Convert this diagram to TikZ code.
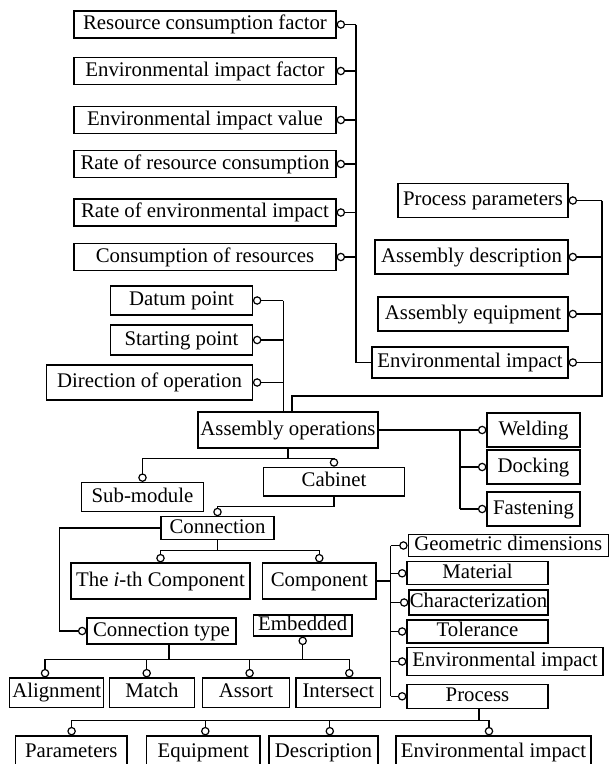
\documentclass[tikz,border=0pt]{standalone}
\usepackage{fontspec}
\setmainfont{Liberation Serif}
\usetikzlibrary{arrows.meta}
\tikzset{
	box/.style={draw, inner sep=0pt, text height=14pt, text depth=4pt, minimum height=#1},
	box/.default=28,
	ring/.style={-{Circle[open,length=8.5pt,width=8.5pt]}},
}
\begin{document}
\begin{tikzpicture}[x=1pt,y=-1pt,line width=1.2pt,font=\fontsize{20.8}{24}\selectfont]
		\clip (0,0) rectangle (614,764);
		
		% factors and rates
		\foreach \n/\y/\t in {rcf/24.5/Resource consumption factor, eif/71/Environmental impact factor,
			eiv/120/Environmental impact value, rrc/164/Rate of resource consumption,
			rei/212.5/Rate of environmental impact, cor/257/Consumption of resources}
			\node[box=27, minimum width=262] (\n) at (205,\y) {\t};
		
		\node[box=34, minimum width=170] (pp) at (483,200.5) {Process parameters};
		\node[box=34, minimum width=193] (ad) at (471.5,257) {Assembly description};
		\node[box=34, minimum width=190] (ae) at (473,314) {Assembly equipment};
		\node[box=31, minimum width=196] (eir) at (470,362.5) {Environmental impact};
		
		\node[box=29, minimum width=141.6] (dp) at (181.5,300.5) {Datum point};
		\node[box=30, minimum width=141.6] (sp) at (181.5,340) {Starting point};
		\node[box=35, minimum width=205.6] (doo) at (149.5,382.5) {Direction of operation};
		
		\node[box=36, minimum width=180] (aop) at (288,430) {Assembly operations};
		\foreach \n/\y/\t in {wel/430/Welding, doc/467/Docking, fas/509/Fastening}
			\node[box=34, minimum width=93] (\n) at (533.5,\y) {\t};
		
		\node[box=29, minimum width=121.6] (sub) at (142.5,497) {Sub-module};
		\node[box=28.7, minimum width=141.7] (cab) at (334,481.7) {Cabinet};
		\node[box=22.3, minimum width=113] (con) at (217.5,528) {Connection};
		\node[box=36, minimum width=179] (ith) at (160.5,581) {The \textit{i}-th Component};
		\node[box=36, minimum width=113.3] (cmp) at (319.3,581) {Component};
		
		% component attributes
		\node[box=22, minimum width=200] (geo) at (508.3,545.5) {Geometric dimensions};
		\node[box=23, minimum width=141] (mat) at (477.5,573.3) {Material};
		\node[box=25, minimum width=139] (chr) at (478.5,602.5) {Characterization};
		\node[box=23, minimum width=141] (tol) at (477.5,631.5) {Tolerance};
		\node[box=28, minimum width=196] (eic) at (505,661.5) {Environmental impact};
		\node[box=24, minimum width=141] (pro) at (477.5,696.3) {Process};
		
		\node[box=26, minimum width=149] (cty) at (161.5,631) {Connection type};
		\node[box=21, minimum width=98.5] (emb) at (302.7,625.5) {Embedded};
		\foreach \n/\x/\w/\t in {ali/56.75/94/Alignment, mch/152/85/Match, aso/246/86.8/Assort, int/338.3/84.5/Intersect}
			\node[box=29.5, minimum width=\w] (\n) at (\x,692.75) {\t};
		
		\foreach \n/\x/\w/\t in {par/71.3/111.4/Parameters, equ/203.3/113.3/Equipment,
			des/323.5/109/Description, eib/493.5/195/Environmental impact}
			\node[box=32, minimum width=\w] (\n) at (\x,752) {\t};
		
		% trunks
		\coordinate (trA) at (356,0);
		\coordinate (trB) at (602,0);
		\coordinate (jB) at (292,396);
		\coordinate (trC) at (283.3,0);
		\coordinate (trD) at (460,0);
		\coordinate (jE) at (288,458.3);
		\coordinate (trG) at (59.5,0);
		\coordinate (jH) at (217.5,550.7);
		\coordinate (trE) at (390.7,0);
		\coordinate (jP) at (479,720.7);
		\coordinate (jI) at (169,659.5);
		
		\foreach \n in {rcf,eif,eiv,rrc,rei,cor}
			\draw[ring] (\n.east -| trA) -- (\n.east);
		\draw (rcf.east -| trA) |- (eir.west);
		
		\foreach \n in {pp,ad,ae,eir}
			\draw[ring] (\n.east -| trB) -- (\n.east);
		\draw (pp.east -| trB) |- (jB) -- (jB |- aop.north);
		
		\foreach \n in {dp,sp,doo}
			\draw[ring] (\n.east -| trC) -- (\n.east);
		\draw (dp.east -| trC) -- (trC |- aop.north);
		
		\draw (aop.east) -| (trD |- fas.west);
		\foreach \n in {wel,doc,fas}
			\draw[ring] (\n.west -| trD) -- (\n.west);
		
		\draw[ring] (aop.south) -- (jE) -| (sub.north);
		\draw[ring] (jE) -| (cab.north);
		\draw[ring] (cab.south) -- ++(0,9.7) -| (con.north);
		\draw[ring] (con.west) -- (con.west -| trG) |- (cty.west);
		\draw[ring] (con.south) -- (jH) -| (ith.north);
		\draw[ring] (jH) -| (cmp.north);
		
		\draw (cmp.east) -- (cmp.east -| trE);
		\draw (geo.west -| trE) -- (pro.west -| trE);
		\foreach \n in {geo,mat,chr,tol,eic,pro}
			\draw[ring] (\n.west -| trE) -- (\n.west);
		
		\draw (pro.south -| jP) -- (jP);
		\foreach \n/\dx in {par/0.3,equ/2,des/6.3,eib/-4.5}
			\draw[ring] (jP) -| ([xshift=\dx pt]\n.north);
		
		\draw (cty.south -| jI) -- (jI);
		\foreach \n/\dx in {ali/-11.7,mch/-5.3,aso/3.6,int/11}
			\draw[ring] (jI) -| ([xshift=\dx pt]\n.north);
		\draw[ring] (jI -| emb.south) -- (emb.south);
	\end{tikzpicture}
\end{document}
